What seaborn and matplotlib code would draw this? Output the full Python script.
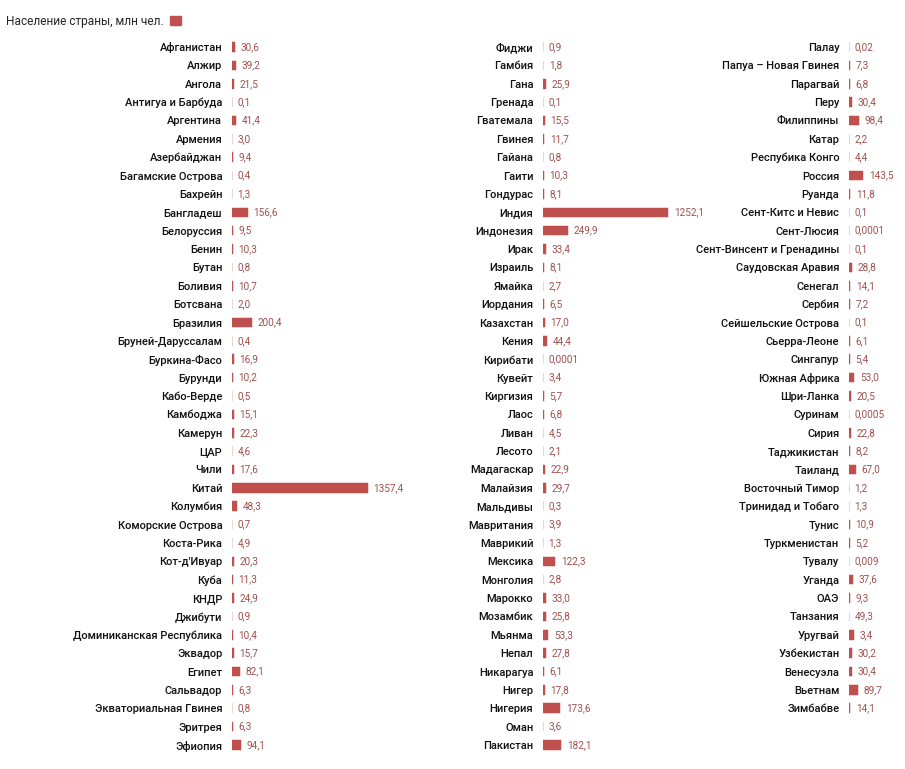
import matplotlib
matplotlib.use("Agg")
import matplotlib.pyplot as plt
from matplotlib.patches import Patch
import seaborn as sns
from pandas import DataFrame

# столбец 1
countries1 = ["Афганистан", "Алжир", "Ангола", "Антигуа и Барбуда", "Аргентина", "Армения",
              "Азербайджан", "Багамские Острова", "Бахрейн", "Бангладеш", "Белоруссия", "Бенин",
              "Бутан", "Боливия", "Ботсвана", "Бразилия", "Бруней-Даруссалам", "Буркина-Фасо",
              "Бурунди", "Кабо-Верде", "Камбоджа", "Камерун", "ЦАР", "Чили", "Китай", "Колумбия",
              "Коморские Острова", "Коста-Рика", "Кот-д'Ивуар", "Куба", "КНДР", "Джибути",
              "Доминиканская Республика", "Эквадор", "Египет", "Сальвадор",
              "Экваториальная Гвинея", "Эритрея", "Эфиопия"]
values1 = [30.6, 39.2, 21.5, 0.1, 41.4, 3.0, 9.4, 0.4, 1.3, 156.6, 9.5, 10.3, 0.8, 10.7, 2.0,
           200.4, 0.4, 16.9, 10.2, 0.5, 15.1, 22.3, 4.6, 17.6, 1357.4, 48.3, 0.7, 4.9, 20.3,
           11.3, 24.9, 0.9, 10.4, 15.7, 82.1, 6.3, 0.8, 6.3, 94.1]
labels1 = ["30,6", "39,2", "21,5", "0,1", "41,4", "3,0", "9,4", "0,4", "1,3", "156,6", "9,5",
           "10,3", "0,8", "10,7", "2,0", "200,4", "0,4", "16,9", "10,2", "0,5", "15,1", "22,3",
           "4,6", "17,6", "1357,4", "48,3", "0,7", "4,9", "20,3", "11,3", "24,9", "0,9", "10,4",
           "15,7", "82,1", "6,3", "0,8", "6,3", "94,1"]

# столбец 2
countries2 = ["Фиджи", "Гамбия", "Гана", "Гренада", "Гватемала", "Гвинея", "Гайана", "Гаити",
              "Гондурас", "Индия", "Индонезия", "Ирак", "Израиль", "Ямайка", "Иордания",
              "Казахстан", "Кения", "Кирибати", "Кувейт", "Киргизия", "Лаос", "Ливан", "Лесото",
              "Мадагаскар", "Малайзия", "Мальдивы", "Мавритания", "Маврикий", "Мексика",
              "Монголия", "Марокко", "Мозамбик", "Мьянма", "Непал", "Никарагуа", "Нигер",
              "Нигерия", "Оман", "Пакистан"]
values2 = [0.9, 1.8, 25.9, 0.1, 15.5, 11.7, 0.8, 10.3, 8.1, 1252.1, 249.9, 33.4, 8.1, 2.7, 6.5,
           17.0, 44.4, 0.0001, 3.4, 5.7, 6.8, 4.5, 2.1, 22.9, 29.7, 0.3, 3.9, 1.3, 122.3, 2.8,
           33.0, 25.8, 53.3, 27.8, 6.1, 17.8, 173.6, 3.6, 182.1]
labels2 = ["0,9", "1,8", "25,9", "0,1", "15,5", "11,7", "0,8", "10,3", "8,1", "1252,1", "249,9",
           "33,4", "8,1", "2,7", "6,5", "17,0", "44,4", "0,0001", "3,4", "5,7", "6,8", "4,5",
           "2,1", "22,9", "29,7", "0,3", "3,9", "1,3", "122,3", "2,8", "33,0", "25,8", "53,3",
           "27,8", "6,1", "17,8", "173,6", "3,6", "182,1"]

# столбец 3 (у Танзании и Уругвая столбики на картинке перепутаны)
countries3 = ["Палау", "Папуа – Новая Гвинея", "Парагвай", "Перу", "Филиппины", "Катар",
              "Респубика Конго", "Россия", "Руанда", "Сент-Китс и Невис", "Сент-Люсия",
              "Сент-Винсент и Гренадины", "Саудовская Аравия", "Сенегал", "Сербия",
              "Сейшельские Острова", "Сьерра-Леоне", "Сингапур", "Южная Африка", "Шри-Ланка",
              "Суринам", "Сирия", "Таджикистан", "Таиланд", "Восточный Тимор",
              "Тринидад и Тобаго", "Тунис", "Туркменистан", "Тувалу", "Уганда", "ОАЭ",
              "Танзания", "Уругвай", "Узбекистан", "Венесуэла", "Вьетнам", "Зимбабве"]
values3 = [0.02, 7.3, 6.8, 30.4, 98.4, 2.2, 4.4, 143.5, 11.8, 0.1, 0.0001, 0.1, 28.8, 14.1, 7.2,
           0.1, 6.1, 5.4, 53.0, 20.5, 0.0005, 22.8, 8.2, 67.0, 1.2, 1.3, 10.9, 5.2, 0.009, 37.6,
           9.3, 3.4, 49.3, 30.2, 30.4, 89.7, 14.1]
labels3 = ["0,02", "7,3", "6,8", "30,4", "98,4", "2,2", "4,4", "143,5", "11,8", "0,1", "0,0001",
           "0,1", "28,8", "14,1", "7,2", "0,1", "6,1", "5,4", "53,0", "20,5", "0,0005", "22,8",
           "8,2", "67,0", "1,2", "1,3", "10,9", "5,2", "0,009", "37,6", "9,3", "49,3", "3,4",
           "30,2", "30,4", "89,7", "14,1"]

bar_color = "#c0504d"
W, H = 905, 769

sns.set_theme(style="white")
plt.rcParams["font.family"] = ["Roboto", "DejaVu Sans"]

fig = plt.figure(figsize=(W / 100, H / 100), dpi=100)

# одна единица = 0.1 px
columns = [(countries1, values1, labels1, 232, 1500),
           (countries2, values2, labels2, 543, 1500),
           (countries3, values3, labels3, 849, 500)]
row_h = (745 - 47) / 38
top = 47 - row_h / 2
height = row_h * 39

for names, vals, labs, x0, xmax in columns:
    ax = fig.add_axes([x0 / W, 1 - (top + height) / H, xmax * 0.1 / W, height / H])
    df = DataFrame({"country": names, "value": vals})
    sns.barplot(data=df, y="country", x="value", orient="h", color=bar_color,
                saturation=1, width=0.52, edgecolor=bar_color, linewidth=0.35, ax=ax)
    ax.bar_label(ax.containers[0], labels=labs, padding=4, fontsize=7.2, color="#a0504d")
    ax.set_xlim(0, xmax)
    ax.set_ylim(38.5, -0.5)
    ax.set_xlabel("")
    ax.set_ylabel("")
    ax.set_xticks([])
    ax.tick_params(axis="y", length=0, pad=7, labelsize=8.0, labelcolor="#111111")
    for t in ax.get_yticklabels():
        t.set_fontweight(500)
    sns.despine(ax=ax, left=True, bottom=True)
    ax.patch.set_alpha(0)

fig.legend(handles=[Patch(color=bar_color)], labels=["Население страны, млн чел."],
           markerfirst=False, loc="upper left", bbox_to_anchor=(-0.005, 0.995), frameon=False,
           fontsize=8.6, handlelength=0.9, handleheight=0.9, handletextpad=0.5)

fig.savefig("out.png", dpi=100)
